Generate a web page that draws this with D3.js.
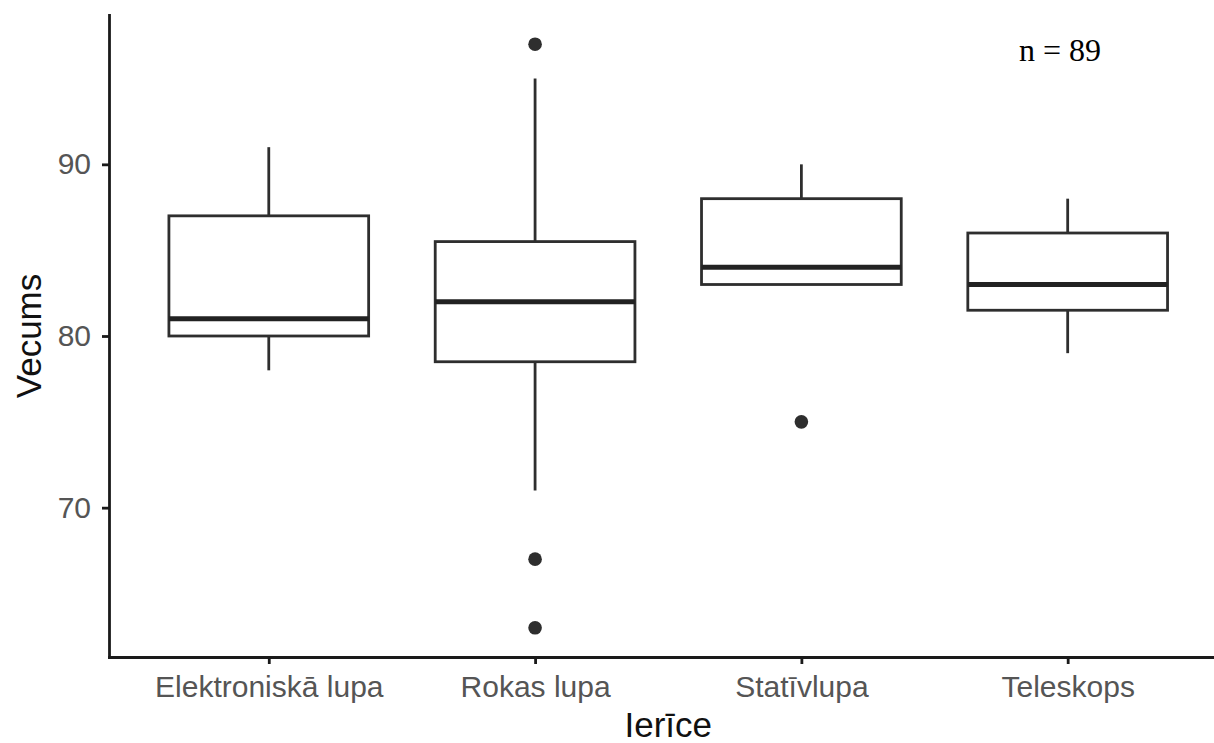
<!DOCTYPE html>
<html>
<head>
<meta charset="utf-8">
<script src="https://cdn.jsdelivr.net/npm/d3@7"></script>
<style>
  body { margin: 0; background: #fff; }
  svg { display: block; font-family: "Liberation Sans", Arial, sans-serif; }
  .axis path, .axis line { stroke: #1a1a1a; stroke-width: 2.8; }
  .axis text { fill: #555; font-size: 30px; }
  .title { fill: #111; font-size: 35px; }
</style>
</head>
<body>
<svg width="1214" height="743"></svg>
<script>
const categories = ['Elektroniskā lupa', 'Rokas lupa', 'Statīvlupa', 'Teleskops'];
const whiskerLow = [78, 71, 83, 79];
const q1 = [80, 78.5, 83, 81.5];
const median = [81, 82, 84, 83];
const q3 = [87, 85.5, 88, 86];
const whiskerHigh = [91, 95, 90, 88];
const outliers = [[], [97, 67, 63], [75], []];
const yTicks = [70, 80, 90];

const margin = { top: 15, left: 109 };
const unit = 266.3;

const boxes = categories.map((c, i) => ({
  cat: c,
  pos: i + 1,
  low: whiskerLow[i],
  q1: q1[i],
  med: median[i],
  q3: q3[i],
  high: whiskerHigh[i],
  out: outliers[i]
}));

const x = d3.scaleLinear()
  .domain([0.4, 4.6])
  .range([margin.left, margin.left + 4.2 * unit]);
const y = d3.scaleLinear()
  .domain([61.3, 98.7])
  .range([657, margin.top]);

const svg = d3.select('svg');
const half = 0.375;
const lineColor = '#2e2e2e';

const g = svg.selectAll('.box')
  .data(boxes)
  .enter()
  .append('g')
  .attr('class', 'box');

// whiskers
g.append('line')
  .attr('x1', d => x(d.pos)).attr('x2', d => x(d.pos))
  .attr('y1', d => y(d.high)).attr('y2', d => y(d.q3))
  .attr('stroke', lineColor).attr('stroke-width', 2.8);
g.append('line')
  .attr('x1', d => x(d.pos)).attr('x2', d => x(d.pos))
  .attr('y1', d => y(d.q1)).attr('y2', d => y(d.low))
  .attr('stroke', lineColor).attr('stroke-width', 2.8);

g.append('rect')
  .attr('x', d => x(d.pos - half))
  .attr('y', d => y(d.q3))
  .attr('width', d => x(d.pos + half) - x(d.pos - half))
  .attr('height', d => y(d.q1) - y(d.q3))
  .attr('fill', '#fff')
  .attr('stroke', lineColor)
  .attr('stroke-width', 2.8);

g.append('line')
  .attr('x1', d => x(d.pos - half)).attr('x2', d => x(d.pos + half))
  .attr('y1', d => y(d.med)).attr('y2', d => y(d.med))
  .attr('stroke', '#222').attr('stroke-width', 5);

g.selectAll('circle')
  .data(d => d.out.map(v => ({ pos: d.pos, v: v })))
  .enter()
  .append('circle')
  .attr('cx', d => x(d.pos))
  .attr('cy', d => y(d.v))
  .attr('r', 6.8)
  .attr('fill', '#2e2e2e');

svg.append('g')
  .attr('class', 'axis')
  .attr('transform', `translate(${margin.left},0)`)
  .call(d3.axisLeft(y).tickValues(yTicks).tickSize(7).tickSizeOuter(0).tickPadding(11))
  .call(a => a.selectAll('text').attr('font-family', null).attr('font-size', null));

svg.append('g')
  .attr('class', 'axis')
  .attr('transform', 'translate(0,657)')
  .call(d3.axisBottom(x).tickValues([1, 2, 3, 4]).tickFormat(d => categories[d - 1])
    .tickSize(7).tickSizeOuter(0).tickPadding(12))
  .call(a => a.selectAll('text').attr('font-family', null).attr('font-size', null));

svg.selectAll('.axis path').attr('stroke-linecap', 'square');

svg.append('text')
  .attr('class', 'title')
  .attr('transform', `translate(41, ${(y.range()[0] + y.range()[1]) / 2}) rotate(-90)`)
  .attr('text-anchor', 'middle')
  .text('Vecums');

svg.append('text')
  .attr('class', 'title')
  .attr('x', (x.range()[0] + x.range()[1]) / 2)
  .attr('y', 737)
  .attr('text-anchor', 'middle')
  .text('Ierīce');

svg.append('text')
  .attr('x', 1019)
  .attr('y', 61)
  .style('font-family', '"Liberation Serif", "Times New Roman", serif')
  .style('font-size', '32px')
  .attr('fill', '#000')
  .text('n = 89');
</script>
</body>
</html>
